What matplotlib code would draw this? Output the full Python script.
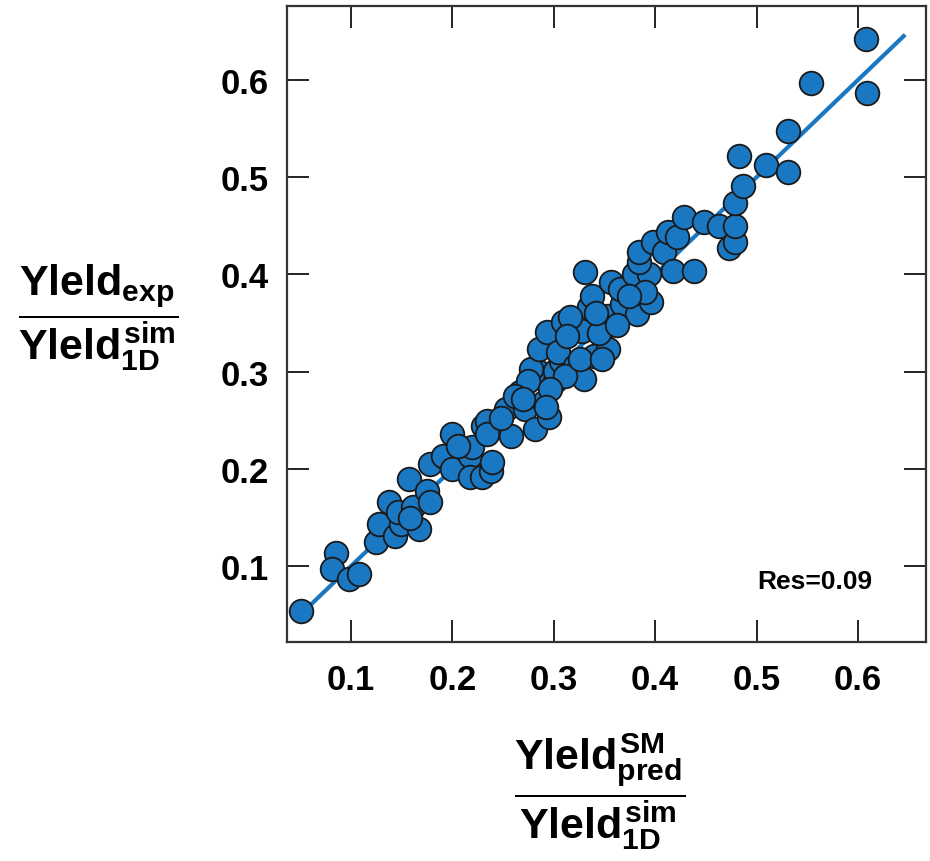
import matplotlib
matplotlib.use("Agg")
import matplotlib.pyplot as plt
import numpy as np

# values
pred_ratio = [0.051, 0.085, 0.081, 0.098, 0.108, 0.125, 0.128, 0.143, 0.149, 0.138,
              0.146, 0.161, 0.167, 0.157, 0.175, 0.178, 0.178, 0.195, 0.191, 0.200,
              0.200, 0.217, 0.219, 0.217, 0.229, 0.238, 0.239, 0.230, 0.234, 0.234,
              0.253, 0.258, 0.267, 0.272, 0.282, 0.290, 0.295, 0.285, 0.278, 0.285,
              0.293, 0.301, 0.301, 0.307, 0.304, 0.309, 0.328, 0.321, 0.330, 0.340,
              0.353, 0.351, 0.335, 0.338, 0.331, 0.356, 0.353, 0.369, 0.367, 0.365,
              0.382, 0.396, 0.379, 0.394, 0.384, 0.384, 0.398, 0.409, 0.413, 0.422,
              0.418, 0.438, 0.428, 0.448, 0.463, 0.473, 0.479, 0.479, 0.479, 0.487,
              0.483, 0.509, 0.531, 0.531, 0.554, 0.608, 0.609,
              0.275, 0.262, 0.316, 0.345, 0.311, 0.296, 0.326, 0.348, 0.292,
              0.270, 0.313, 0.362, 0.390, 0.248, 0.206, 0.158, 0.342, 0.374]
exp_ratio = [0.054, 0.114, 0.097, 0.087, 0.092, 0.125, 0.143, 0.131, 0.143, 0.166,
             0.156, 0.161, 0.138, 0.190, 0.177, 0.166, 0.205, 0.210, 0.213, 0.236,
             0.200, 0.213, 0.223, 0.192, 0.192, 0.198, 0.207, 0.244, 0.249, 0.236,
             0.262, 0.234, 0.279, 0.262, 0.241, 0.269, 0.253, 0.300, 0.303, 0.323,
             0.341, 0.290, 0.301, 0.311, 0.320, 0.351, 0.342, 0.306, 0.292, 0.316,
             0.323, 0.346, 0.366, 0.378, 0.402, 0.392, 0.357, 0.366, 0.370, 0.385,
             0.359, 0.372, 0.400, 0.400, 0.413, 0.423, 0.433, 0.423, 0.444, 0.438,
             0.403, 0.403, 0.459, 0.454, 0.450, 0.427, 0.433, 0.450, 0.473, 0.491,
             0.522, 0.512, 0.505, 0.547, 0.597, 0.642, 0.587,
             0.290, 0.275, 0.356, 0.340, 0.296, 0.282, 0.313, 0.313, 0.264,
             0.272, 0.337, 0.348, 0.382, 0.252, 0.224, 0.150, 0.360, 0.378]
fit_x = [0.05, 0.645]
fit_y = [0.05, 0.645]
ticks = [0.1, 0.2, 0.3, 0.4, 0.5, 0.6]
res_label = "Res=0.09"

plt.rcParams['font.family'] = ['Liberation Sans', 'DejaVu Sans']
plt.rcParams['font.weight'] = 'bold'
plt.rcParams['mathtext.fontset'] = 'custom'
plt.rcParams['mathtext.rm'] = 'Liberation Sans:bold'
plt.rcParams['mathtext.it'] = 'Liberation Sans:bold'
plt.rcParams['mathtext.bf'] = 'Liberation Sans:bold'

blue = '#1a78c2'

fig = plt.figure(figsize=(9.3, 8.62), dpi=100)
ax = fig.add_axes([0.3086, 0.254, 0.6871, 0.7379])

ax.plot(fit_x, fit_y, color=blue, lw=3.0, zorder=2)
ax.scatter(pred_ratio, exp_ratio, s=290, color=blue, edgecolors='#1a1a1a',
           linewidths=1.3, zorder=3)

ax.set_xlim(0.037, 0.667)
ax.set_ylim(0.022, 0.676)
ax.set_xticks(ticks)
ax.set_yticks(ticks)
ax.set_xticklabels([f"{t:.1f}" for t in ticks])
ax.set_yticklabels([f"{t:.1f}" for t in ticks])
ax.tick_params(direction='in', length=16, width=1.4, top=True, right=True,
               labelsize=25, color='#222222')
ax.tick_params(axis='x', pad=15)
ax.tick_params(axis='y', pad=13)
for sp in ax.spines.values():
    sp.set_linewidth(1.6)
    sp.set_color('#333333')

ax.text(0.614, 0.085, res_label, ha='right', va='center', fontsize=19,
        fontweight='bold')

# axis labels drawn as fractions
fig.text(98 / 930, 1 - 318 / 862,
         r'$\dfrac{Yleld_{exp}}{Yleld_{1D}^{sim}}$',
         ha='center', va='center', fontsize=31)
fig.text(600 / 930, 1 - 792 / 862,
         r'$\dfrac{Yleld_{pred}^{SM}}{Yleld_{1D}^{sim}}$',
         ha='center', va='center', fontsize=31)

fig.savefig('out.png', dpi=100)
